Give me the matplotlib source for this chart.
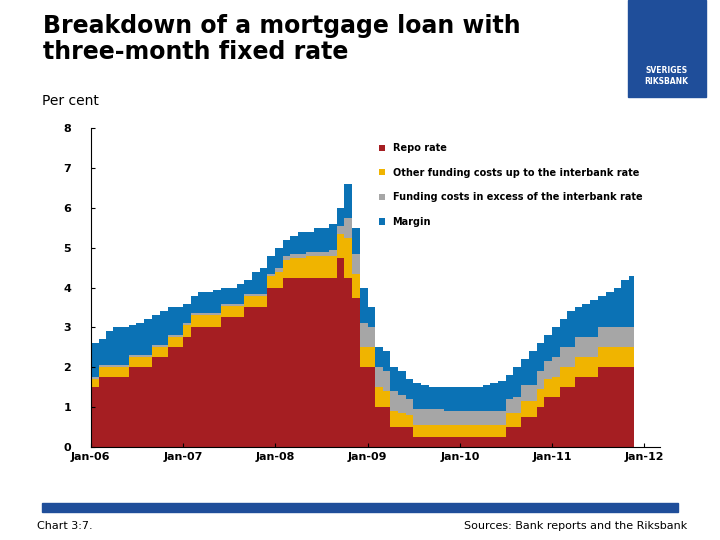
import matplotlib
matplotlib.use("Agg")
import matplotlib.pyplot as plt
import numpy as np
import pandas as pd
from matplotlib.patches import Rectangle

months = pd.date_range("2006-01-01", periods=71, freq="MS")
repo = [1.5,1.75,1.75,1.75,1.75,2.0,2.0,2.0,2.25,2.25,2.5,2.5,
        2.75,3,3,3,3,3.25,3.25,3.25,3.5,3.5,3.5,4.0,
        4,4.25,4.25,4.25,4.25,4.25,4.25,4.25,4.75,4.25,3.75,2.0,
        2,1,1,0.5,0.5,0.5,0.25,0.25,0.25,0.25,0.25,0.25,
        0.25,0.25,0.25,0.25,0.25,0.25,0.5,0.5,0.75,0.75,1.0,1.25,
        1.25,1.5,1.5,1.75,1.75,1.75,2,2,2,2,2]
other = [0.2,0.25,0.25,0.25,0.25,0.25,0.25,0.25,0.25,0.25,0.25,0.25,
         0.3,0.3,0.3,0.3,0.3,0.3,0.3,0.3,0.3,0.3,0.3,0.3,
         0.4,0.45,0.5,0.5,0.55,0.55,0.55,0.55,0.6,1.0,0.6,0.5,
         0.5,0.5,0.4,0.4,0.35,0.3,0.3,0.3,0.3,0.3,0.3,0.3,
         0.3,0.3,0.3,0.3,0.3,0.3,0.35,0.35,0.4,0.4,0.45,0.45,
         0.5,0.5,0.5,0.5,0.5,0.5,0.5,0.5,0.5,0.5,0.5]
excess = [0.05]*24 + [0.1,0.1,0.1,0.1,0.1,0.1,0.1,0.15,0.2,0.5,0.5,0.6,
          0.5,0.5,0.5,0.5,0.45,0.4,0.4,0.4,0.4,0.4,0.35,0.35,
          0.35,0.35,0.35,0.35,0.35,0.35,0.35,0.4,0.4,0.4,0.45,0.45,
          0.5,0.5,0.5,0.5,0.5,0.5,0.5,0.5,0.5,0.5,0.5]
margin = [0.85,0.65,0.85,0.95,0.95,0.75,0.8,0.9,0.75,0.85,0.7,0.7,
          0.5,0.45,0.55,0.55,0.6,0.4,0.4,0.5,0.35,0.55,0.65,0.45,
          0.5,0.4,0.45,0.55,0.5,0.6,0.6,0.65,0.45,0.85,0.65,0.9,
          0.5,0.5,0.5,0.6,0.6,0.5,0.65,0.6,0.55,0.55,0.6,0.6,
          0.6,0.6,0.6,0.65,0.7,0.75,0.6,0.75,0.65,0.85,0.7,0.65,
          0.75,0.7,0.9,0.75,0.85,0.95,0.8,0.9,1.0,1.2,1.3]
labels = ["Repo rate", "Other funding costs up to the interbank rate",
          "Funding costs in excess of the interbank rate", "Margin"]
colors = ["#A51E22", "#F0B400", "#A6A6A6", "#0B72B5"]
tick_labels = ["Jan-06","Jan-07","Jan-08","Jan-09","Jan-10","Jan-11","Jan-12"]

x = list(months) + [pd.Timestamp("2011-11-20")]
series = [repo, other, excess, margin]

fig = plt.figure(figsize=(7.2, 5.4), dpi=100)
ax = fig.add_axes([0.126, 0.172, 0.79, 0.591])
base = np.zeros(len(x))
for s, c, l in zip(series, colors, labels):
    v = np.array(s + [s[-1]])
    ax.fill_between(x, base, base + v, step="post", color=c, lw=0, label=l)
    base = base + v

ax.set_ylim(0, 8)
ax.set_xlim(pd.Timestamp("2006-01-01"), pd.Timestamp("2012-03-01"))
ax.set_yticks(range(9))
ax.set_xticks([pd.Timestamp(f"20{y:02d}-01-01") for y in range(6, 13)])
ax.set_xticklabels(tick_labels)
for t in ax.get_xticklabels() + ax.get_yticklabels():
    t.set_fontweight("bold"); t.set_fontsize(8)
ax.spines["top"].set_visible(False)
ax.spines["right"].set_visible(False)
ax.tick_params(direction="in", length=3)
ax.tick_params(axis="y", pad=14)
ax.legend(loc="upper right", bbox_to_anchor=(0.985, 0.98), frameon=False,
          handlelength=0.6, handleheight=0.6, prop={"weight": "bold", "size": 7},
          labelspacing=1.5)

fig.text(0.06, 0.975, "Breakdown of a mortgage loan with\nthree-month fixed rate",
         fontsize=17, fontweight="bold", va="top", linespacing=1.15)
fig.text(0.058, 0.8, "Per cent", fontsize=10, va="bottom")
fig.patches.append(Rectangle((0.872, 0.82), 0.108, 0.18, transform=fig.transFigure,
                             color="#1F4E9A"))
fig.text(0.926, 0.845, "SVERIGES\nRIKSBANK", color="white", fontsize=5.5,
         ha="center", fontweight="bold")
fig.patches.append(Rectangle((0.058, 0.052), 0.884, 0.016, transform=fig.transFigure,
                             color="#1F4E9A"))
fig.text(0.052, 0.02, "Chart 3:7.", fontsize=8)
fig.text(0.955, 0.02, "Sources: Bank reports and the Riksbank", fontsize=8, ha="right")
fig.savefig("out.png", dpi=100)
